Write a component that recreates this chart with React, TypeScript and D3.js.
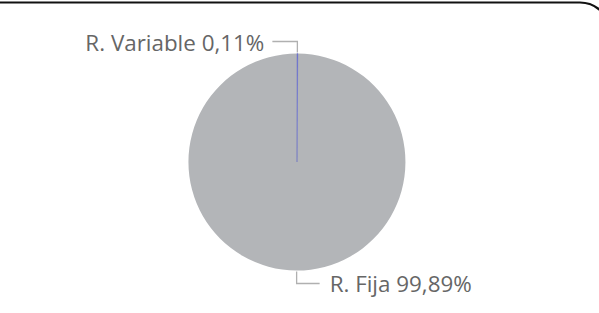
import React, { useEffect, useRef } from 'react';
import * as d3 from 'd3';

const categories = ['R. Variable', 'R. Fija'];
const shares = [0.11, 99.89];
const labels = ['0,11%', '99,89%'];
const colors = ['#5a62c8', '#b3b5b8'];

const App = () => {
  const ref = useRef<SVGSVGElement>(null);

  useEffect(() => {
    const width = 599;
    const height = 313;
    const cx = 297;
    const cy = 162;
    const radius = 108.5;

    const svg = d3.select(ref.current);
    svg.selectAll('*').remove();

    // card frame, only the top edge and a bit of the right corner show
    svg.append('path')
      .attr('d', 'M0,2.5 H580 Q592,2.5 601,11')
      .attr('fill', 'none')
      .attr('stroke', '#111')
      .attr('stroke-width', 2.2);

    const data = categories.map((name, i) => ({ name, value: shares[i], label: labels[i], color: colors[i] }));

    const pie = d3.pie<any>().sort(null).value((d) => d.value);
    const arc = d3.arc<any>().innerRadius(0).outerRadius(radius);
    const arcs = pie(data);

    const g = svg.append('g').attr('transform', 'translate(' + cx + ',' + cy + ')');

    // big slice first so the thin one sits on top
    g.selectAll('path.slice')
      .data(arcs.slice().reverse())
      .enter()
      .append('path')
      .attr('class', 'slice')
      .attr('d', arc)
      .attr('fill', (d) => d.data.color)
      .attr('stroke', (d) => d.data.color)
      .attr('stroke-opacity', 0.8)
      .attr('stroke-width', (d) => (d.data.value < 1 ? 0.5 : 0));

    // leader lines + labels
    arcs.forEach((d) => {
      const mid = (d.startAngle + d.endAngle) / 2;
      const x0 = Math.sin(mid) * radius;
      const y0 = -Math.cos(mid) * radius;
      const top = y0 < 0;
      const y1 = top ? y0 - 12 : y0 + 13;
      const x2 = top ? x0 - 25 : x0 + 23;

      g.append('path')
        .attr('d', 'M' + x0 + ',' + (y0 + (top ? -1 : 1)) + ' V' + y1 + ' H' + x2)
        .attr('fill', 'none')
        .attr('stroke', '#b0b0b0')
        .attr('stroke-width', 1.3);

      g.append('text')
        .attr('x', top ? x2 - 8 : x2 + 10)
        .attr('y', y1 + 9)
        .attr('text-anchor', top ? 'end' : 'start')
        .attr('font-family', '"Open Sans", sans-serif')
        .attr('font-size', 22.4)
        .attr('fill', '#666')
        .text(d.data.name + ' ' + d.data.label);
    });

    svg.attr('width', width).attr('height', height);
  }, []);

  return (
    <svg ref={ref} width={599} height={313} style={{ position: 'absolute', left: 0, top: 0, background: '#fff' }} />
  );
};

export default App;
